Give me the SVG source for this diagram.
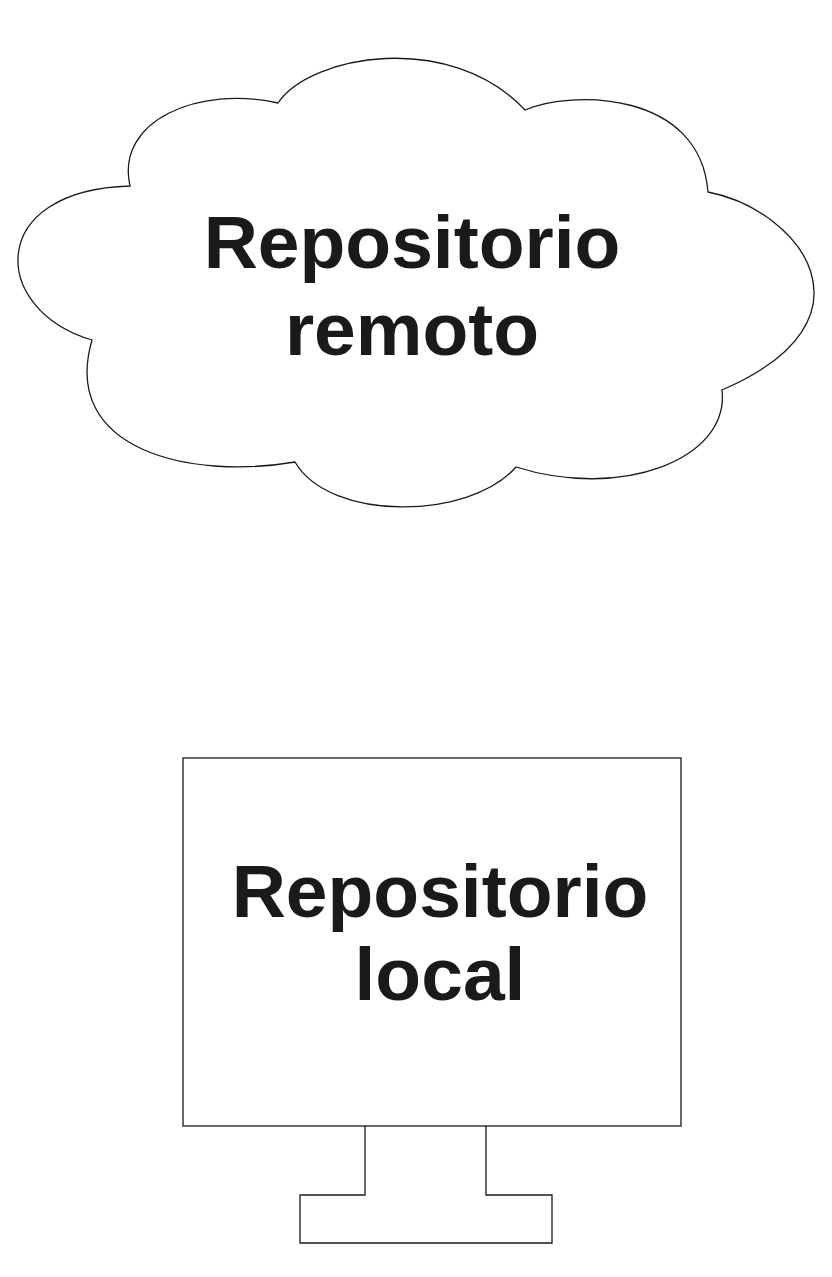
<svg xmlns="http://www.w3.org/2000/svg" width="832" height="1277" viewBox="0 0 832 1277">
<style>
.o{fill:none;stroke:#1a1a1a;stroke-width:1.3}
.t{font-family:"Liberation Sans",Arial,sans-serif;font-weight:bold;font-size:75px;fill:#1a1a1a;text-anchor:middle}
</style>
<rect width="832" height="1277" fill="#fff"/>
<g id="remoto">
<path class="o" d="M278,103 C310,55 450,30 525,110 C570,90 700,90 708,192 C800,210 885,320 722,390 C730,460 620,500 516,467 C470,520 330,522 295,462 C190,480 60,450 92,340 C-10,310 -15,190 130,186 C115,120 200,85 278,103 Z"/>
<text class="t" x="412" y="268">Repositorio</text>
<text class="t" x="412" y="355">remoto</text>
</g>
<g id="local">
<rect class="o" x="183" y="758" width="498" height="368"/>
<path class="o" d="M365,1126 V1195 H300 V1243 H552 V1195 H486 V1126"/>
<text class="t" x="440" y="917">Repositorio</text>
<text class="t" x="440" y="1000">local</text>
</g>
<g id="connectors"></g>
</svg>
